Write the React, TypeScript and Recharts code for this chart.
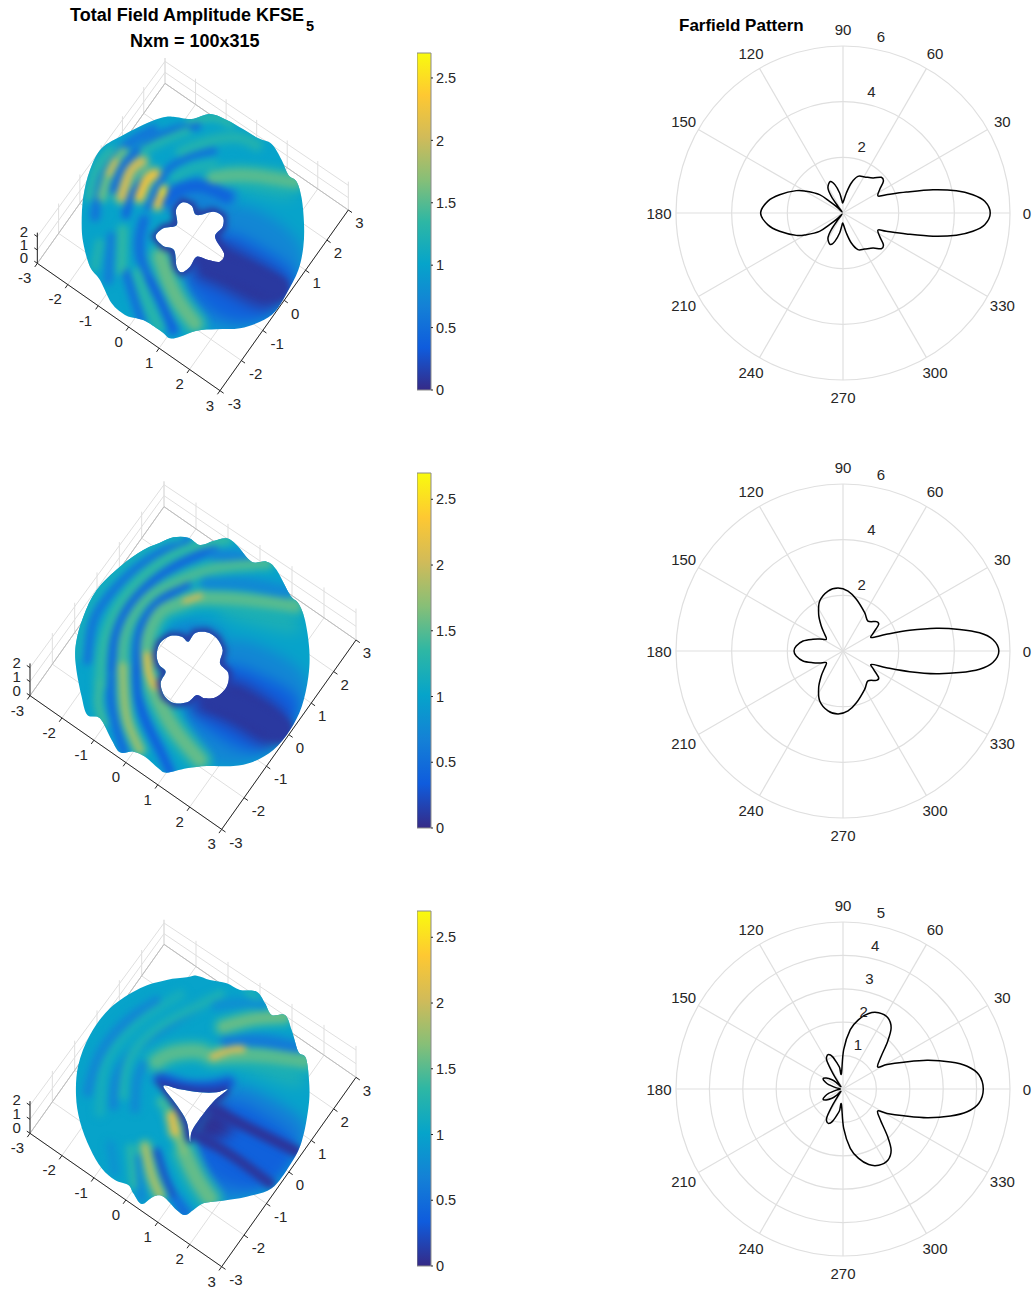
import { useId } from 'react';
import {
  Bar, BarChart, PolarAngleAxis, PolarGrid, PolarRadiusAxis, Radar, RadarChart,
  Scatter, ScatterChart, XAxis, YAxis,
} from 'recharts';

type Pt = [number, number];
type Ridge = [number, number, Pt[]]; // amplitude, width, crest line in view units

const FONT = '"Liberation Sans", Arimo, Helvetica, Arial, sans-serif';
const INK = '#262626';
const GRID = '#dfdfdf';

const parulaStops = ['#352a87', '#0f5cdd', '#1481d6', '#06a4ca', '#2eb7a4', '#87bf77', '#d1bb59', '#fec832', '#f9fb0e'];
const AMP_MAX = 2.7;
const colorbarTicks = [0, 0.5, 1, 1.5, 2, 2.5];
const xyTicks = [-3, -2, -1, 0, 1, 2, 3];
const zTicks = [0, 1, 2];
const angleTicks = [0, 30, 60, 90, 120, 150, 180, 210, 240, 270, 300, 330];

// far field, upper half of each pattern: the pictures are symmetric about 0 degrees
const pattern1Angle = [0, 4.7, 8, 11.1, 14.5, 18.3, 22.9, 25.9, 32.5, 38, 43, 49.4, 59, 67.8, 74.5, 80.5, 90, 95, 99.5, 106, 112, 121, 125, 127, 130, 135, 139, 142, 149.4, 154.4, 163.9, 171, 180];
const pattern1Value = [5.29, 5.11, 4.71, 4.15, 3.34, 2.4, 1.69, 1.4, 1.56, 1.84, 1.88, 1.66, 1.51, 1.42, 1.12, 0.73, 0.38, 0.45, 0.73, 1.06, 1.22, 1.05, 0.73, 0.3, 0.05, 0.3, 0.64, 1.07, 1.53, 1.86, 2.37, 2.73, 2.96];
const pattern2Angle = [0, 4.4, 7.6, 10.5, 13.7, 17.2, 21, 25.2, 30.9, 36.8, 41.3, 50.2, 60.5, 75.5, 85.2, 94.5, 104, 115, 123.6, 131, 137.7, 145, 152.8, 158.7, 166, 173.9, 180];
const pattern2Value = [5.6, 5.4, 4.95, 4.26, 3.45, 2.51, 1.67, 1.13, 1.28, 1.6, 1.6, 1.4, 1.58, 1.92, 2.16, 2.27, 2.22, 1.98, 1.58, 1.19, 0.89, 0.73, 0.94, 1.16, 1.48, 1.69, 1.76];
const pattern3Angle = [0, 6, 10.4, 14.1, 18.8, 23.7, 29, 32.4, 39.7, 46.9, 51.8, 57.8, 64.9, 71.2, 77.3, 83, 89, 96, 99, 103, 108, 112.7, 117, 120, 123, 127, 133, 136, 140, 147, 153, 158, 163, 170, 180];
const pattern3Value = [4.2, 4.09, 3.78, 3.32, 2.66, 1.99, 1.51, 1.23, 1.46, 1.96, 2.33, 2.52, 2.52, 2.39, 2.13, 1.79, 1.18, 0.46, 0.65, 0.8, 1.02, 1.12, 1.08, 0.95, 0.55, 0.2, 0.1, 0.3, 0.43, 0.6, 0.67, 0.58, 0.45, 0.2, 0.08];

// projected surface outlines and holes, view units are 1/3 px
const outline1: Pt[] = [[520, 230], [575, 237], [630, 222], [680, 240], [730, 268], [775, 295], [815, 312], [845, 360], [865, 405], [890, 425], [905, 475], [912, 550], [910, 620], [895, 690], [860, 760], [825, 815], [780, 845], [720, 865], [650, 868], [590, 872], [540, 890], [510, 895], [485, 875], [440, 845], [410, 835], [375, 825], [335, 790], [300, 720], [270, 680], [250, 610], [245, 550], [250, 470], [270, 390], [305, 325], [370, 285], [440, 250], [490, 232]];
const hole1: Pt[] = [[548, 487], [575, 497], [590, 525], [640, 515], [668, 530], [668, 560], [645, 590], [672, 640], [660, 665], [625, 660], [590, 650], [570, 680], [545, 697], [530, 680], [522, 630], [490, 618], [467, 590], [490, 565], [530, 555], [528, 510]];
const outline2: Pt[] = [[520, 202], [565, 203], [600, 225], [640, 213], [680, 205], [710, 225], [755, 275], [800, 275], [830, 300], [870, 375], [895, 400], [915, 450], [928, 540], [925, 620], [905, 710], [870, 780], [820, 840], [760, 875], [700, 888], [620, 888], [560, 895], [500, 908], [475, 895], [435, 860], [400, 845], [360, 847], [335, 810], [300, 745], [262, 735], [245, 680], [228, 590], [228, 520], [250, 440], [290, 360], [360, 290], [430, 240], [480, 218]];
const hole2: Pt[] = [[470, 555], [480, 520], [510, 498], [545, 500], [565, 515], [585, 490], [620, 487], [650, 505], [668, 540], [660, 580], [685, 610], [680, 650], [650, 680], [615, 685], [590, 675], [565, 695], [525, 700], [495, 680], [482, 640], [497, 605], [478, 585]];
const outline3: Pt[] = [[560, 217], [590, 212], [630, 225], [680, 235], [720, 255], [770, 260], [795, 295], [815, 330], [855, 330], [875, 375], [895, 440], [918, 460], [928, 540], [925, 610], [905, 710], [870, 780], [815, 850], [740, 875], [660, 888], [610, 895], [580, 915], [555, 930], [530, 915], [490, 875], [460, 875], [425, 897], [400, 865], [385, 840], [345, 825], [305, 790], [270, 730], [240, 650], [228, 570], [235, 480], [270, 390], [330, 310], [420, 250], [500, 225]];
const hole3: Pt[] = [[490, 543], [540, 553], [600, 562], [650, 562], [683, 553], [640, 590], [600, 640], [575, 680], [570, 710], [560, 650], [530, 600]];

// broad zones of the field, closed, painted soft
const shade1: [number, Pt[]][] = [
  [1.2, [[640, 400], [880, 410], [905, 490], [800, 470], [680, 440]]],
  [0.62, [[480, 490], [560, 440], [670, 460], [700, 520], [560, 510]]],
  [0.72, [[640, 470], [800, 510], [930, 620], [900, 740], [800, 870], [640, 890], [560, 800], [510, 690]]],
  [0.38, [[650, 540], [780, 620], [920, 700], [860, 800], [790, 850], [680, 850], [600, 790], [530, 700]]],
  [0.08, [[650, 590], [730, 640], [890, 725], [850, 785], [800, 815], [730, 785], [640, 730], [550, 705], [620, 650]]],
];
const shade2: [number, Pt[]][] = [
  [1.2, [[640, 385], [880, 400], [930, 510], [780, 470], [650, 440]]],
  [0.62, [[470, 500], [550, 450], [660, 470], [700, 520], [560, 500]]],
  [0.72, [[650, 480], [800, 530], [940, 610], [920, 730], [820, 860], [700, 900], [600, 880], [520, 700]]],
  [0.36, [[660, 560], [770, 610], [930, 680], [870, 800], [790, 860], [690, 830], [610, 770], [520, 700]]],
  [0.07, [[685, 610], [780, 670], [890, 745], [835, 825], [790, 835], [700, 765], [610, 730], [540, 705], [640, 680]]],
];
const shade3: [number, Pt[]][] = [
  [1.2, [[700, 450], [915, 470], [930, 570], [780, 510], [690, 480]]],
  [0.65, [[665, 510], [800, 570], [935, 650], [915, 720], [825, 860], [690, 900], [600, 880], [550, 710]]],
  [0.38, [[670, 560], [790, 630], [915, 710], [870, 800], [800, 860], [680, 850], [610, 790], [560, 700]]],
  [0.05, [[690, 550], [640, 630], [730, 655], [660, 715], [570, 710], [590, 640]]],
];

const ridges1: Ridge[] = [
  [0.55, 7, [[285, 530], [300, 430], [345, 350], [400, 300], [460, 268]]],
  [0.45, 7, [[340, 450], [365, 385], [410, 335], [490, 285], [590, 255]]],
  [0.4, 6, [[378, 525], [395, 465], [430, 420], [460, 398]]],
  [0.5, 6, [[445, 500], [470, 445], [500, 395], [560, 355], [640, 332]]],
  [0.42, 13, [[500, 480], [540, 448], [610, 440], [680, 470]]],
  [1.3, 8, [[270, 470], [290, 390], [330, 335]]],
  [1.25, 8, [[430, 330], [490, 300], [560, 272]]],
  [1.5, 13, [[640, 412], [720, 405], [800, 412], [885, 425]]],
  [1.2, 9, [[525, 412], [580, 385], [640, 375]]],
  [1.25, 9, [[545, 335], [600, 312], [700, 292], [770, 315]]],
  [1.3, 7, [[570, 243], [640, 232], [690, 250]]],
  [1.55, 9, [[305, 470], [330, 390], [370, 335]]],
  [1.95, 7, [[328, 400], [345, 365]]],
  [2.0, 10, [[365, 470], [390, 395], [425, 365]]],
  [2.25, 9, [[418, 470], [440, 420], [465, 402]]],
  [2.15, 8, [[472, 495], [490, 450]]],
  [2.7, 3, [[488, 445], [491, 468]]],
  [0.62, 7, [[335, 590], [325, 720]]],
  [0.48, 8, [[432, 540], [420, 640], [470, 760]]],
  [1.35, 8, [[368, 570], [365, 690]]],
  [1.25, 7, [[298, 610], [285, 680]]],
  [0.5, 7, [[380, 700], [405, 780], [425, 840]]],
  [0.38, 8, [[450, 720], [485, 790], [520, 870]]],
  [1.3, 9, [[412, 700], [440, 780], [475, 860]]],
  [1.55, 14, [[480, 650], [505, 720], [540, 790], [585, 850]]],
  [0.1, 24, [[630, 665], [730, 700], [830, 745]]],
];
const ridges2: Ridge[] = [
  [0.55, 7, [[262, 570], [280, 450], [340, 360], [420, 285], [500, 235], [560, 210]]],
  [0.45, 8, [[335, 600], [345, 500], [385, 410], [450, 340], [540, 280], [640, 235]]],
  [0.42, 8, [[410, 600], [415, 500], [445, 430], [490, 385], [560, 345]]],
  [0.75, 12, [[620, 340], [740, 345], [860, 370]]],
  [0.7, 10, [[640, 255], [720, 262], [765, 275]]],
  [0.35, 7, [[410, 600], [415, 680], [440, 760], [480, 840], [510, 905]]],
  [0.45, 7, [[335, 620], [335, 700], [355, 790], [372, 845]]],
  [1.35, 9, [[300, 640], [312, 520], [355, 410], [430, 320], [510, 260], [600, 225], [680, 208]]],
  [1.45, 10, [[368, 600], [372, 510], [405, 430], [460, 370], [530, 335], [640, 295], [800, 280]]],
  [1.5, 13, [[445, 590], [440, 530], [455, 470], [490, 420], [540, 400], [590, 385], [680, 385], [790, 395], [885, 408]]],
  [2.0, 6, [[555, 393], [600, 378]]],
  [1.75, 9, [[368, 590], [372, 680], [385, 760], [420, 840]]],
  [1.4, 7, [[300, 640], [295, 700], [310, 760]]],
  [1.15, 7, [[232, 560], [250, 450], [300, 360], [390, 270], [480, 220], [540, 204]]],
  [1.55, 14, [[455, 640], [480, 700], [525, 780], [600, 870]]],
  [2.1, 7, [[441, 555], [447, 610], [465, 650]]],
  [0.1, 26, [[640, 680], [750, 725], [840, 780]]],
];
const ridges3: Ridge[] = [
  [0.72, 8, [[265, 560], [300, 450], [380, 350], [470, 290]]],
  [0.72, 8, [[340, 600], [350, 520], [400, 440], [480, 375], [600, 300]]],
  [0.75, 7, [[405, 610], [410, 530], [430, 480]]],
  [1.2, 8, [[370, 570], [385, 470], [460, 380], [560, 320], [660, 270]]],
  [1.15, 8, [[300, 620], [310, 500], [350, 420], [430, 340], [540, 270]]],
  [1.2, 7, [[745, 262], [780, 290]]],
  [0.82, 9, [[650, 300], [720, 295], [790, 300]]],
  [0.62, 11, [[680, 410], [790, 410], [890, 430]]],
  [1.55, 12, [[670, 365], [760, 342], [852, 335]]],
  [0.07, 11, [[650, 620], [720, 655], [890, 740]]],
  [0.08, 10, [[600, 695], [700, 755], [810, 835]]],
  [0.28, 10, [[480, 520], [560, 545], [640, 545], [685, 535]]],
  [1.5, 14, [[470, 470], [520, 445], [600, 440], [640, 455], [750, 450], [915, 468]]],
  [2.0, 8, [[640, 455], [690, 435], [725, 432]]],
  [0.75, 7, [[412, 760], [425, 880]]],
  [1.3, 7, [[392, 730], [402, 840]]],
  [0.85, 7, [[332, 720], [345, 800]]],
  [0.25, 6, [[470, 740], [500, 830], [550, 925]]],
  [1.8, 9, [[435, 725], [455, 810], [480, 870]]],
  [1.4, 8, [[485, 590], [510, 625]]],
  [1.55, 15, [[555, 745], [590, 820], [630, 880]]],
  [1.65, 9, [[530, 680], [550, 735]]],
  [2.1, 9, [[515, 630], [525, 680]]],
  [0.5, 8, [[530, 885], [560, 925]]],
];

// floor corners of the 3D box in view units: x=-3,y=-3 / x=3,y=-3 / x=3,y=3 / x=-3,y=3, then rise per z unit
const box1 = { a: [112, 670], b: [660, 1052], c: [1045, 510], d: [495, 130], rise: [40, 44, 37, 33] };
const box2 = { a: [90, 677], b: [665, 1078], c: [1068, 510], d: [492, 110], rise: [42, 46, 41, 33] };
const box3 = { a: [90, 685], b: [665, 1085], c: [1068, 517], d: [492, 118], rise: [42, 46, 41, 32] };

const hexToRgb = (h: string) => [1, 3, 5].map(i => parseInt(h.slice(i, i + 2), 16));
function parula(v: number) {
  const t = Math.max(0, Math.min(0.9999, v / AMP_MAX)) * (parulaStops.length - 1);
  const i = Math.floor(t);
  const a = hexToRgb(parulaStops[i]);
  const b = hexToRgb(parulaStops[i + 1]);
  const c = a.map((q, k) => Math.round(q + (b[k] - q) * (t - i)));
  return `rgb(${c.join(',')})`;
}

function smoothClosed(pts: { x: number; y: number }[]) {
  const n = pts.length;
  let d = `M${pts[0].x},${pts[0].y}`;
  for (let i = 0; i < n; i++) {
    const p0 = pts[(i - 1 + n) % n], p1 = pts[i], p2 = pts[(i + 1) % n], p3 = pts[(i + 2) % n];
    d += `C${p1.x + (p2.x - p0.x) / 6},${p1.y + (p2.y - p0.y) / 6} ${p2.x - (p3.x - p1.x) / 6},${p2.y - (p3.y - p1.y) / 6} ${p2.x},${p2.y}`;
  }
  return d + 'Z';
}

const asPoints = (pts: Pt[]) => pts.map(([x, y]) => ({ x, y }));
const pxPoints = (pts: Pt[]) => pts.map(([x, y]) => ({ x: x / 3, y: y / 3 }));
const noDot = () => <g />;

function viewAxes(w: number, h: number) {
  return [
    <XAxis key="x" type="number" dataKey="x" domain={[0, w]} hide />,
    <YAxis key="y" type="number" dataKey="y" domain={[0, h]} reversed hide />,
  ];
}

function project(box: typeof box1, x: number, y: number, z: number): Pt {
  const u = (x + 3) / 6, v = (y + 3) / 6;
  const mix = (a: number, b: number, c: number, d: number) =>
    a * (1 - u) * (1 - v) + b * u * (1 - v) + c * u * v + d * (1 - u) * v;
  return [
    mix(box.a[0], box.b[0], box.c[0], box.d[0]),
    mix(box.a[1], box.b[1], box.c[1], box.d[1]) - z * mix(box.rise[0], box.rise[1], box.rise[2], box.rise[3]),
  ];
}

function segment(key: string, pts: Pt[], stroke: string) {
  return (
    <Scatter key={key} data={asPoints(pts)} shape={noDot} isAnimationActive={false}
      line={{ stroke, strokeWidth: 1, fill: 'none' }} lineJointType="linear" />
  );
}

interface SurfaceProps {
  top: number; w: number; h: number; box: typeof box1;
  outline: Pt[]; hole: Pt[]; shade: [number, Pt[]][]; ridges: Ridge[];
}

const layerStyle = { position: 'absolute', inset: 0 } as const;
const noMargin = { top: 0, right: 0, bottom: 0, left: 0 };

function Surface({ top, w, h, box, outline, hole, shade, ridges }: SurfaceProps) {
  const TOP_Z = 2.3;
  const lines: any[] = [];
  xyTicks.forEach(t => {
    lines.push(segment(`fx${t}`, [project(box, t, -3, 0), project(box, t, 3, 0)], GRID));
    lines.push(segment(`fy${t}`, [project(box, -3, t, 0), project(box, 3, t, 0)], GRID));
    lines.push(segment(`wx${t}`, [project(box, t, 3, 0), project(box, t, 3, TOP_Z)], GRID));
    lines.push(segment(`wy${t}`, [project(box, -3, t, 0), project(box, -3, t, TOP_Z)], GRID));
  });
  zTicks.forEach(z => {
    lines.push(segment(`bx${z}`, [project(box, -3, 3, z), project(box, 3, 3, z)], GRID));
    lines.push(segment(`by${z}`, [project(box, -3, -3, z), project(box, -3, 3, z)], GRID));
  });
  lines.push(segment('backx', [project(box, -3, 3, 0), project(box, 3, 3, 0)], '#bdbdbd'));
  lines.push(segment('backy', [project(box, -3, -3, 0), project(box, -3, 3, 0)], '#bdbdbd'));
  lines.push(segment('axx', [project(box, -3, -3, 0), project(box, 3, -3, 0)], INK));
  lines.push(segment('axy', [project(box, 3, -3, 0), project(box, 3, 3, 0)], INK));
  lines.push(segment('axz', [project(box, -3, -3, 0), project(box, -3, -3, TOP_Z)], INK));
  xyTicks.forEach(t => {
    lines.push(segment(`tx${t}`, [project(box, t, -3, 0), project(box, t, -3.12, 0)], INK));
    lines.push(segment(`ty${t}`, [project(box, 3, t, 0), project(box, 3.12, t, 0)], INK));
  });
  zTicks.forEach(z => lines.push(segment(`tz${z}`, [project(box, -3, -3, z), project(box, -3.1, -3, z)], INK)));

  const labels = [
    ...xyTicks.map(t => {
      const [x, y] = project(box, t, -3, 0);
      return { x: x - 30 - (t < 0 ? 8 : 0), y: y + 43, label: String(t) };
    }),
    ...xyTicks.map(t => {
      const [x, y] = project(box, 3, t, 0);
      return { x: x + 33 + (t < 0 ? 10 : 0), y: y + 38, label: String(t) };
    }),
    ...zTicks.map(z => {
      const [x, y] = project(box, -3, -3, z);
      return { x: x - 40, y: y - 17, label: String(z) };
    }),
  ];

  const clip = `path(evenodd, "${smoothClosed(pxPoints(outline))}${smoothClosed(pxPoints(hole))}")`;
  const W = w / 3, H = h / 3;

  return (
    <div style={{ position: 'absolute', left: 0, top, width: W, height: H }}>
      <div style={layerStyle}>
        <ScatterChart width={W} height={H} margin={noMargin}>
          {viewAxes(w, h)}
          {lines}
          <Scatter data={labels} isAnimationActive={false}
            shape={(p: any) => (
              <text x={p.cx} y={p.cy} textAnchor="middle" dominantBaseline="central" fontFamily={FONT} fontSize={15} fill={INK}>
                {p.payload?.label ?? p.label}
              </text>
            )} />
        </ScatterChart>
      </div>
      <div style={{ ...layerStyle, clipPath: clip }}>
        <div style={{ ...layerStyle, filter: 'blur(7px)' }}>
          <ScatterChart width={W} height={H} margin={noMargin}>
            {viewAxes(w, h)}
            <Scatter data={asPoints(outline)} shape={noDot} isAnimationActive={false} lineJointType="linearClosed"
              line={{ fill: parula(1), stroke: parula(1), strokeWidth: 40 }} />
            {shade.map(([amp, pts], i) => (
              <Scatter key={`s${i}`} data={asPoints(pts)} shape={noDot} isAnimationActive={false} lineJointType="basisClosed"
                line={{ fill: parula(amp), stroke: 'none' }} />
            ))}
          </ScatterChart>
        </div>
        <div style={{ ...layerStyle, filter: 'blur(3px)' }}>
          <ScatterChart width={W} height={H} margin={noMargin}>
            {viewAxes(w, h)}
            {ridges.map(([amp, width, pts], i) => (
              <Scatter key={`h${i}`} data={asPoints(pts)} shape={noDot} isAnimationActive={false} lineJointType="natural"
                line={{ fill: 'none', stroke: parula((amp + 1) / 2), strokeWidth: width * 1.9, strokeLinecap: 'round', strokeOpacity: amp < 0.2 ? 0 : 0.75 }} />
            ))}
            {ridges.map(([amp, width, pts], i) => (
              <Scatter key={`r${i}`} data={asPoints(pts)} shape={noDot} isAnimationActive={false} lineJointType="natural"
                line={{ fill: 'none', stroke: parula(amp), strokeWidth: width, strokeLinecap: 'round' }} />
            ))}
            <Scatter data={asPoints(hole)} shape={noDot} isAnimationActive={false} lineJointType="linearClosed"
              line={{ fill: 'none', stroke: parula(0.1), strokeWidth: 8 }} />
          </ScatterChart>
        </div>
      </div>
    </div>
  );
}

function Colorbar({ top, height }: { top: number; height: number }) {
  const id = useId().replace(/:/g, '');
  return (
    <div style={{ position: 'absolute', left: 417, top: top - 6 }}>
      <BarChart width={60} height={height + 14} data={[{ name: 'amp', v: AMP_MAX }]} barCategoryGap={0}
        margin={{ top: 6, right: 0, bottom: 8, left: 0 }}>
        <defs>
          <linearGradient id={id} x1="0" y1="1" x2="0" y2="0">
            {parulaStops.map((c, i) => <stop key={c} offset={i / (parulaStops.length - 1)} stopColor={c} />)}
          </linearGradient>
        </defs>
        <XAxis dataKey="name" hide />
        <YAxis orientation="right" width={46} type="number" domain={[0, AMP_MAX]} ticks={colorbarTicks}
          axisLine={false} tickSize={2} tickMargin={3} tickLine={{ stroke: INK }} interval={0}
          tick={{ fontFamily: FONT, fontSize: 14.5, fill: INK }} />
        <Bar dataKey="v" fill={`url(#${id})`} stroke="#8c8c8c" strokeWidth={1} isAnimationActive={false} />
      </BarChart>
    </div>
  );
}

function FarField({ cy, angles, values, rMax, tickCount }: { cy: number; angles: number[]; values: number[]; rMax: number; tickCount: number }) {
  const upper = angles.map((angle, i) => ({ angle, value: values[i] }));
  const lower = angles.slice(1, -1).reverse().map((angle, i) => ({ angle: 360 - angle, value: values[angles.length - 2 - i] }));
  const data = [...upper, ...lower];
  const W = 392, H = 392;
  return (
    <div style={{ position: 'absolute', left: 640, top: cy - H / 2 }}>
      <RadarChart width={W} height={H} cx={203} cy={H / 2} outerRadius={167} startAngle={0} endAngle={360} data={data}
        margin={noMargin}>
        <PolarGrid gridType="circle" polarAngles={angleTicks} stroke={GRID} strokeWidth={1.2} />
        <PolarAngleAxis dataKey="angle" type="number" domain={[0, 360]} ticks={angleTicks as any}
          axisLine={false} tickLine={false}
          tick={(p: any) => {
            const a = (p.payload.value * Math.PI) / 180;
            return (
              <text x={p.x + 9 * Math.cos(a)} y={p.y - 9 * Math.sin(a)} textAnchor="middle" dominantBaseline="central"
                fontFamily={FONT} fontSize={15} fill={INK}>{p.payload.value}</text>
            );
          }} />
        <PolarRadiusAxis angle={80} domain={[0, rMax]} tickCount={tickCount} axisLine={false} tickLine={false}
          tick={(p: any) => p.payload.value === 0 ? <g /> : (
            <text x={p.x + 9} y={p.y - 12} textAnchor="middle" dominantBaseline="central"
              fontFamily={FONT} fontSize={15} fill={INK}>{p.payload.value}</text>
          )} />
        <Radar dataKey="value" isAnimationActive={false} stroke="#000" fill="none"
          shape={(p: any) => <path d={smoothClosed(p.points)} fill="none" stroke="#000" strokeWidth={1.5} />} />
      </RadarChart>
    </div>
  );
}

const titleStyle = { position: 'absolute', fontFamily: FONT, fontWeight: 700, fontSize: 18, color: '#000', whiteSpace: 'nowrap', lineHeight: '20px' } as const;

export default function App() {
  return (
    <div style={{ position: 'absolute', left: 0, top: 0, width: 1032, height: 1291, background: '#fff', overflow: 'hidden' }}>
      <div style={{ ...titleStyle, left: 70, top: 5 }}>
        Total Field Amplitude KFSE
        <span style={{ position: 'relative', top: 10, left: 2, fontSize: 14.5 }}>5</span>
      </div>
      <div style={{ ...titleStyle, left: 130, top: 31 }}>Nxm = 100x315</div>
      <div style={{ ...titleStyle, left: 679, top: 16, fontSize: 17 }}>Farfield Pattern</div>

      <Surface top={40} w={1110} h={1140} box={box1} outline={outline1} hole={hole1} shade={shade1} ridges={ridges1} />
      <Surface top={470} w={1140} h={1170} box={box2} outline={outline2} hole={hole2} shade={shade2} ridges={ridges2} />
      <Surface top={905} w={1140} h={1158} box={box3} outline={outline3} hole={hole3} shade={shade3} ridges={ridges3} />

      <Colorbar top={53} height={337} />
      <Colorbar top={473} height={355} />
      <Colorbar top={911} height={355} />

      <FarField cy={213} angles={pattern1Angle} values={pattern1Value} rMax={6} tickCount={4} />
      <FarField cy={651} angles={pattern2Angle} values={pattern2Value} rMax={6} tickCount={4} />
      <FarField cy={1089} angles={pattern3Angle} values={pattern3Value} rMax={5} tickCount={6} />
    </div>
  );
}
